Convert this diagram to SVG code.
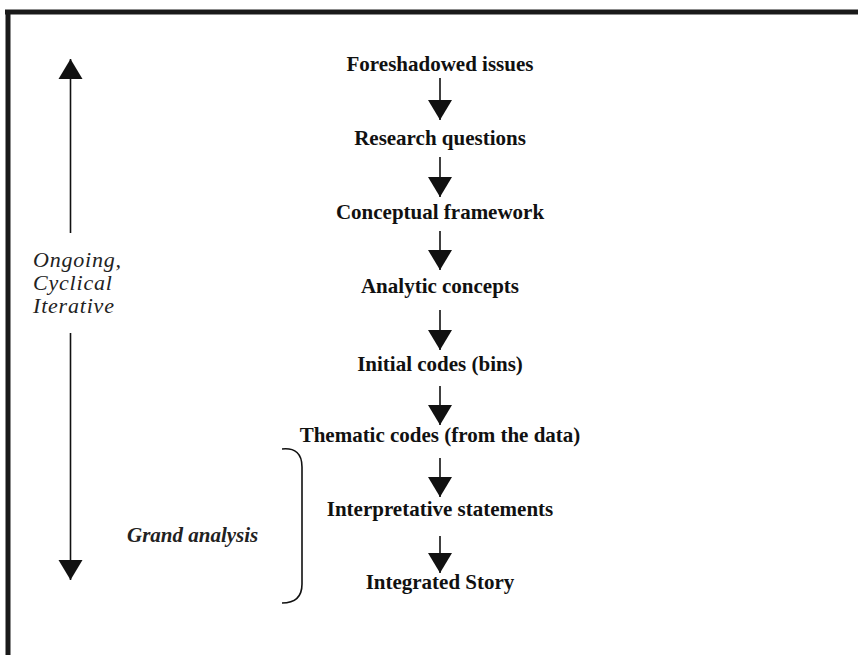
<svg xmlns="http://www.w3.org/2000/svg" width="858" height="655" viewBox="0 0 858 655">
  <style>
    .step { font-family: "Liberation Serif", "Times New Roman", serif; font-weight: bold; font-size: 21px; fill: #111; text-anchor: middle; }
    .note { font-family: "Liberation Serif", "Times New Roman", serif; font-style: italic; font-size: 21px; fill: #222; }
    .cycle { font-size: 22px; letter-spacing: 0.8px; }
    .flow { stroke: #111; stroke-width: 1.6; fill: none; }
    .frame { stroke: #1a1a1a; stroke-width: 5; fill: none; }
  </style>
  <defs>
    <marker id="head" markerUnits="userSpaceOnUse" markerWidth="22" markerHeight="26" viewBox="0 -13 21 26" refX="20" refY="0" orient="auto">
      <path d="M0,-12 L20,0 L0,12 Z" fill="#111"/>
    </marker>
  </defs>

  <rect width="858" height="655" fill="#fff"/>

  <!-- page frame: top and left rules -->
  <g id="frame">
    <line class="frame" x1="5" y1="12" x2="858" y2="12"/>
    <line class="frame" x1="8" y1="10" x2="8" y2="655"/>
  </g>

  <!-- process steps -->
  <g id="n1"><text class="step" x="440" y="71">Foreshadowed issues</text></g>
  <g id="n2"><text class="step" x="440" y="145">Research questions</text></g>
  <g id="n3"><text class="step" x="440" y="219">Conceptual framework</text></g>
  <g id="n4"><text class="step" x="440" y="293">Analytic concepts</text></g>
  <g id="n5"><text class="step" x="440" y="371">Initial codes (bins)</text></g>
  <g id="n6"><text class="step" x="440" y="442">Thematic codes (from the data)</text></g>
  <g id="n7"><text class="step" x="440" y="516">Interpretative statements</text></g>
  <g id="n8"><text class="step" x="440" y="589">Integrated Story</text></g>

  <!-- side annotations -->
  <g id="cycle-label">
    <text class="note cycle" x="33" y="267">Ongoing,</text>
    <text class="note cycle" x="33" y="290">Cyclical</text>
    <text class="note cycle" x="33" y="313">Iterative</text>
  </g>
  <g id="grand-label">
    <text class="note" x="127" y="542" font-weight="bold">Grand analysis</text>
  </g>
  <g id="brace">
    <path class="flow" d="M282,449 Q302,447 302,467 L302,584 Q302,603 282,603"/>
  </g>

  <!-- connectors -->
  <g id="connectors">
    <line class="flow" x1="440" y1="78" x2="440" y2="120" marker-end="url(#head)"/>
    <line class="flow" x1="440" y1="157" x2="440" y2="197" marker-end="url(#head)"/>
    <line class="flow" x1="440" y1="231" x2="440" y2="270" marker-end="url(#head)"/>
    <line class="flow" x1="440" y1="310" x2="440" y2="350" marker-end="url(#head)"/>
    <line class="flow" x1="440" y1="386" x2="440" y2="425" marker-end="url(#head)"/>
    <line class="flow" x1="440" y1="458" x2="440" y2="497" marker-end="url(#head)"/>
    <line class="flow" x1="440" y1="536" x2="440" y2="573" marker-end="url(#head)"/>
    <!-- cycle axis -->
    <line class="flow" x1="70.5" y1="233" x2="70.5" y2="59" marker-end="url(#head)"/>
    <line class="flow" x1="70.5" y1="333" x2="70.5" y2="580" marker-end="url(#head)"/>
  </g>
</svg>
